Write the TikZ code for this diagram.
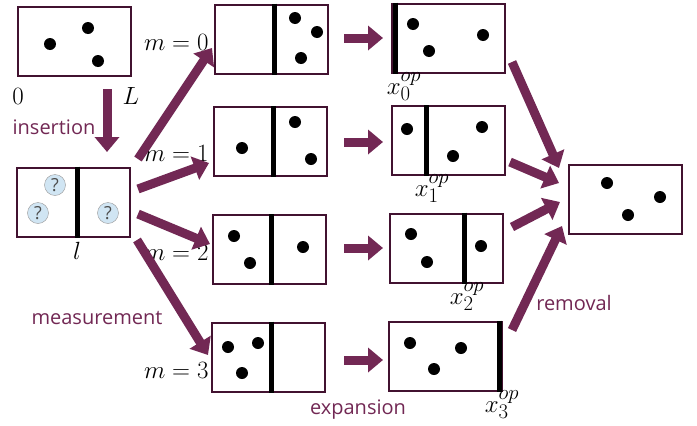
\documentclass[tikz,border=0pt]{standalone}
\usepackage{fontspec}
\newfontfamily\labfont{Open Sans}
\usetikzlibrary{arrows.meta}
\definecolor{arrc}{RGB}{114,40,84}
\definecolor{boxc}{RGB}{66,18,48}
\definecolor{qfill}{RGB}{208,229,243}
\tikzset{
  box/.style={draw=boxc, line width=2pt, fill=white, minimum width=113pt, minimum height=69pt, inner sep=0pt},
  wall/.style={line width=5pt, black},
  dot/.style={circle, fill=black, minimum size=12pt, inner sep=0pt},
  qm/.style={circle, draw=gray!80, fill=qfill, minimum size=21pt, inner sep=0pt, font=\labfont\fontsize{18}{18}\selectfont, text=black!70},
  fat/.style={draw=arrc!80!black, line width=9pt, arrc, -{Triangle[length=15pt,width=24pt]}, shorten <=0pt},
  lab/.style={font=\labfont\fontsize{20}{20}\selectfont, text=arrc},
  mlab/.style={font=\fontsize{24.88}{25}\selectfont}
}
\begin{document}
\begin{tikzpicture}[x=1pt,y=-1pt]
\useasboundingbox (0,0) rectangle (697,426);
% boxes
\node[box] (A) at (74,41.5) {};
\node[box] (B) at (73.5,202) {};
\node[box] (m0) at (271.5,39) {};
\node[box] (m1) at (270.5,141.5) {};
\node[box] (m2) at (269.5,249.5) {};
\node[box] (m3) at (268.5,357) {};
\node[box] (x0) at (448.5,38) {};
\node[box] (x1) at (448,140.5) {};
\node[box] (x2) at (446.5,248) {};
\node[box] (x3) at (445.5,356) {};
\node[box] (F) at (625.5,199) {};
% walls
\draw[wall] (77,0 |- B.north) -- (77,0 |- B.south);
\draw[wall] (274,0 |- m0.north) -- (274,0 |- m0.south);
\draw[wall] (273,0 |- m1.north) -- (273,0 |- m1.south);
\draw[wall] (271,0 |- m2.north) -- (271,0 |- m2.south);
\draw[wall] (271,0 |- m3.north) -- (271,0 |- m3.south);
\draw[wall] (395.5,0 |- x0.north) -- (395.5,0 |- x0.south);
\draw[wall] (426,0 |- x1.north) -- (426,0 |- x1.south);
\draw[wall] (464,0 |- x2.north) -- (464,0 |- x2.south);
\draw[wall] (499,0 |- x3.north) -- (499,0 |- x3.south);
% dots
\foreach \n/\p in {a1/{(50,44)},a2/{(88,28)},a3/{(98,61)},
  b1/{(295,18)},b2/{(317,32)},b3/{(301,58)},
  c1/{(242,148)},c2/{(295,122)},c3/{(311,159)},
  d1/{(234,236)},d2/{(250,263)},d3/{(303,247)},
  e1/{(228,347)},e2/{(258,343)},e3/{(242,373)},
  f1/{(413,24)},f2/{(429,51)},f3/{(483,35)},
  g1/{(407,129)},g2/{(453,156)},g3/{(482,127)},
  h1/{(411,234)},h2/{(427,262)},h3/{(481,246)},
  i1/{(410,343)},i2/{(434,369)},i3/{(461,348)},
  j1/{(607,183)},j2/{(628,215)},j3/{(660,197)}}
  \node[dot] (\n) at \p {};
% question marks
\node[qm] (q1) at (55,185) {?};
\node[qm] (q2) at (38,213) {?};
\node[qm] (q3) at (108,213) {?};
% labels
\node[mlab] (l0) at (18,96) {$0$};
\node[mlab] (lL) at (131,96) {$L$};
\node[mlab] (ll) at (77,251) {$l$};
\node[mlab, anchor=east] (lm0) at (212,42) {$m=0$};
\node[mlab, anchor=east] (lm1) at (212,153) {$m=1$};
\node[mlab, anchor=east] (lm2) at (212,252) {$m=2$};
\node[mlab, anchor=east] (lm3) at (212,370) {$m=3$};
\node[mlab] (lx0) at (404,87) {$x_0^{op}$};
\node[mlab] (lx1) at (432,189) {$x_1^{op}$};
\node[mlab] (lx2) at (467,297) {$x_2^{op}$};
\node[mlab] (lx3) at (502,405) {$x_3^{op}$};
\node[lab] (tins) at (54,127) {insertion};
\node[lab] (tmeas) at (97,318) {measurement};
\node[lab] (texp) at (358,410) {expansion};
\node[lab] (trem) at (574,303) {removal};
% arrow end points
\coordinate (i0) at (107,89);  \coordinate (i1) at (107,152);
\coordinate (s0) at (138,159); \coordinate (t0) at (212,48);
\coordinate (s1) at (138,189); \coordinate (t1) at (209,163);
\coordinate (s2) at (138,214); \coordinate (t2) at (210,244);
\coordinate (s3) at (137,240); \coordinate (t3) at (208,355);
\coordinate (e0s) at (344,38);  \coordinate (e0t) at (383,38);
\coordinate (e1s) at (344,142); \coordinate (e1t) at (383,142);
\coordinate (e2s) at (344,248); \coordinate (e2t) at (383,248);
\coordinate (e3s) at (344,360); \coordinate (e3t) at (383,360);
\coordinate (r0s) at (512,62);  \coordinate (r0t) at (559,168);
\coordinate (r1s) at (510,162); \coordinate (r1t) at (559,183);
\coordinate (r2s) at (512,227); \coordinate (r2t) at (560,202);
\coordinate (r3s) at (512,330); \coordinate (r3t) at (562,226);
% arrows
\foreach \a/\b in {i0/i1,s0/t0,s1/t1,s2/t2,s3/t3,e0s/e0t,e1s/e1t,e2s/e2t,e3s/e3t,r0s/r0t,r1s/r1t,r2s/r2t,r3s/r3t}
  \draw[fat] (\a) -- (\b);
\end{tikzpicture}
\end{document}
